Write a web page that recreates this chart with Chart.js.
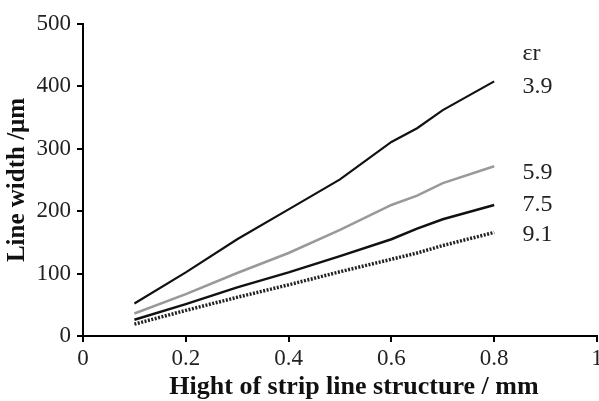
<!DOCTYPE html>
<html>
<head>
<meta charset="utf-8">
<script src="https://cdn.jsdelivr.net/npm/chart.js@4.4.1/dist/chart.umd.min.js"></script>
<style>
  html, body { margin: 0; padding: 0; background: #fff; overflow: hidden; }
  #wrap { width: 612px; height: 401px; }
</style>
</head>
<body>
<div id="wrap"><canvas id="widthChart"></canvas></div>
<script>
// strip line height (mm) and line width (µm) for each εr
const heights = [0.1, 0.2, 0.3, 0.4, 0.5, 0.6, 0.65, 0.7, 0.8];
const width39 = [52, 102, 155, 203, 251, 311, 333, 362, 408];
const width59 = [36, 67, 101, 133, 170, 210, 225, 245, 272];
const width75 = [26, 51, 78, 102, 128, 155, 172, 187, 210];
const width91 = [19, 41, 62, 82, 103, 123, 133, 145, 166];
const epsNames = ['3.9', '5.9', '7.5', '9.1'];
const epsHeader = 'εr';
const xTitle = 'Hight of strip line structure / mm';
const yTitle = 'Line width /μm';
// where the εr labels sit on the y scale (µm)
const labelLevels = [399, 261, 210, 163];
const headerLevel = 453;

const serif = "'Liberation Serif', 'DejaVu Serif', serif";

function toPoints(values) {
  return heights.map((h, i) => ({ x: h, y: values[i] }));
}

const epsLabels = {
  id: 'epsLabels',
  afterDatasetsDraw(chart) {
    const ctx = chart.ctx;
    const xs = chart.scales.x;
    const ys = chart.scales.y;
    const x = xs.getPixelForValue(0.855);
    ctx.save();
    ctx.fillStyle = '#222';
    ctx.font = '24px ' + serif;
    ctx.textAlign = 'left';
    ctx.textBaseline = 'middle';
    ctx.fillText(epsHeader, x, ys.getPixelForValue(headerLevel));
    epsNames.forEach((name, i) => {
      ctx.fillText(name, x, ys.getPixelForValue(labelLevels[i]));
    });
    // x axis title sits a little right of the plot centre in the original
    ctx.fillStyle = '#111';
    ctx.font = 'bold 26px ' + serif;
    ctx.textAlign = 'center';
    ctx.textBaseline = 'alphabetic';
    ctx.fillText(xTitle, (xs.left + xs.right) / 2 + 14, 394);
    ctx.restore();
  }
};

const ctx = document.getElementById('widthChart').getContext('2d');
new Chart(ctx, {
  type: 'line',
  data: {
    datasets: [
      { label: epsNames[0], data: toPoints(width39), borderColor: '#111', borderWidth: 2.2 },
      { label: epsNames[1], data: toPoints(width59), borderColor: '#999', borderWidth: 2.5 },
      { label: epsNames[2], data: toPoints(width75), borderColor: '#111', borderWidth: 2.5 },
      { label: epsNames[3], data: toPoints(width91), borderColor: '#222', borderWidth: 3.5, borderDash: [2, 1.5] }
    ]
  },
  options: {
    responsive: true,
    maintainAspectRatio: false,
    animation: false,
    elements: { point: { radius: 0 }, line: { tension: 0, fill: false } },
    layout: { padding: { top: 24, right: 15, left: 0, bottom: 0 } },
    plugins: { legend: { display: false }, tooltip: { enabled: false } },
    scales: {
      x: {
        type: 'linear',
        min: 0,
        max: 1,
        afterFit(scale) { scale.height = 65; },
        border: { color: '#000', width: 2 },
        grid: { drawOnChartArea: false, color: '#000', lineWidth: 2, tickLength: 6 },
        ticks: {
          stepSize: 0.2,
          color: '#222',
          padding: 3,
          maxRotation: 0,
          font: { family: serif, size: 23 },
          callback: v => String(Math.round(v * 10) / 10)
        }
      },
      y: {
        min: 0,
        max: 500,
        afterFit(scale) { scale.width = 83; },
        border: { color: '#000', width: 2 },
        grid: { drawOnChartArea: false, color: '#000', lineWidth: 2, tickLength: 6 },
        ticks: {
          stepSize: 100,
          color: '#222',
          padding: 6,
          font: { family: serif, size: 23 }
        },
        title: {
          display: true,
          text: yTitle,
          color: '#111',
          padding: { top: 3, bottom: 0 },
          font: { family: serif, size: 25, weight: 'bold' }
        }
      }
    }
  },
  plugins: [epsLabels]
});
</script>
</body>
</html>
